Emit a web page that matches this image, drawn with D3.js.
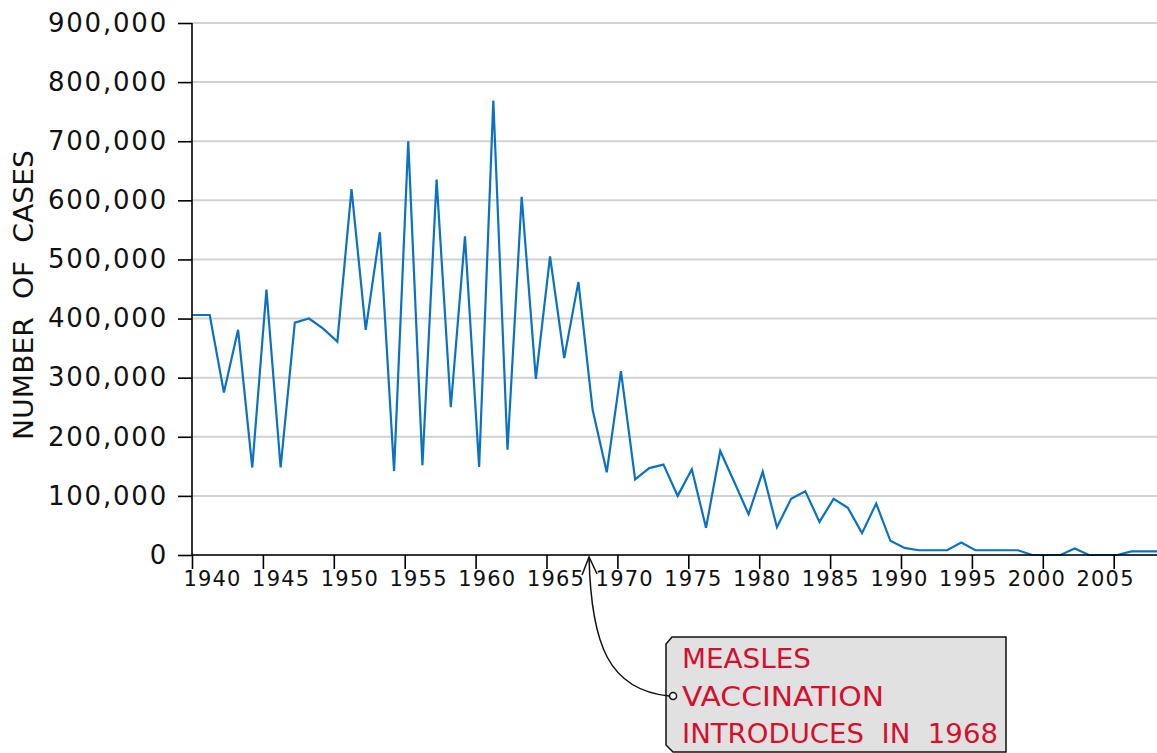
<!DOCTYPE html>
<html>
<head>
<meta charset="utf-8">
<script src="https://cdn.jsdelivr.net/npm/d3@7"></script>
<style>
  body { margin: 0; background: #fff; }
  svg { display: block; }
</style>
</head>
<body>
<div class="canvas"></div>
<script>
// data (cases per year)
const years = d3.range(1940, 2009);
const cases = [
  406000, 406000, 275000, 381000, 148000, 449000, 148000, 393000, 400000, 383000,
  361000, 619000, 381000, 546000, 142000, 700000, 152000, 635000, 250000, 539000,
  149000, 769000, 178000, 606000, 298000, 505000, 333000, 462000, 246000, 140000,
  311000, 128000, 147000, 153000, 100000, 145000, 46000, 176000, 123000, 69000,
  141000, 47000, 95000, 108000, 56000, 95000, 80000, 37000, 87000, 24000,
  12000, 8000, 8000, 8000, 21000, 8000, 8000, 8000, 8000, 0,
  0, 0, 11000, 0, 0, 0, 6000, 6000, 6000
];
const yTicks = [0, 100000, 200000, 300000, 400000, 500000, 600000, 700000, 800000, 900000];
const xTicks = [1940, 1945, 1950, 1955, 1960, 1965, 1970, 1975, 1980, 1985, 1990, 1995, 2000, 2005];
const noteLines = ['MEASLES', 'VACCINATION', 'INTRODUCES  IN  1968'];

const data = years.map((y, i) => ({ year: y, cases: cases[i] }));

const svg = d3.select('.canvas')
  .append('svg')
  .attr('width', 1157)
  .attr('height', 753);

// margins & dimensions
const margin = { top: 23, left: 192 };
const graphWidth = 1157 - margin.left;
const graphHeight = 555 - margin.top;

const graph = svg.append('g')
  .attr('transform', `translate(${margin.left}, ${margin.top})`);

const x = d3.scaleLinear()
  .domain([1940, 2008])
  .range([0, 68 * 14.18]);

const y = d3.scaleLinear()
  .domain([0, 900000])
  .range([graphHeight, 0]);

// gridlines
graph.append('g')
  .selectAll('line')
  .data(yTicks)
  .enter()
  .append('line')
  .attr('x1', 0)
  .attr('x2', graphWidth)
  .attr('y1', d => y(d))
  .attr('y2', d => y(d))
  .attr('stroke', '#d2d2d2')
  .attr('stroke-width', 2);

// line (points sit a quarter year right of the ticks in the original)
const shift = 0.25;
const line = d3.line()
  .x(d => d.year === 1940 ? x(d.year) : x(d.year + shift))
  .y(d => y(d.cases));

graph.append('path')
  .datum(data)
  .attr('d', line)
  .attr('fill', 'none')
  .attr('stroke', '#0a72c4')
  .attr('stroke-width', 2.2)
  .attr('stroke-linejoin', 'miter');

// axes
const yAxis = d3.axisLeft(y)
  .tickValues(yTicks)
  .tickSize(14)
  .tickPadding(10)
  .tickFormat(d3.format(','));

const yAxisGroup = graph.append('g').call(yAxis);
yAxisGroup.select('.domain').attr('stroke-width', 1.6).attr('d', `M0,0V${graphHeight}`);
yAxisGroup.selectAll('line').attr('stroke-width', 1.6);
yAxisGroup.selectAll('text')
  .attr('font-family', 'DejaVu Sans, sans-serif')
  .attr('font-size', 26)
  .attr('letter-spacing', 1.8)
  .attr('fill', '#111');

const xAxis = d3.axisBottom(x)
  .tickValues(xTicks)
  .tickSize(14)
  .tickPadding(2)
  .tickFormat(d3.format('d'));

const xAxisGroup = graph.append('g')
  .attr('transform', `translate(0, ${graphHeight})`)
  .call(xAxis);
xAxisGroup.select('.domain').attr('stroke-width', 1.6).attr('d', `M0,0H${graphWidth}`);
xAxisGroup.selectAll('line').attr('stroke-width', 1.6);
// labels in the original drift slightly left of the ticks as years go on
xAxisGroup.selectAll('text')
  .attr('x', d => 20 - (d - 1940) / 5 * 2.2)
  .attr('font-family', 'DejaVu Sans, sans-serif')
  .attr('font-size', 21)
  .attr('letter-spacing', 1.2)
  .attr('fill', '#111');

// axis title
svg.append('text')
  .attr('transform', 'translate(33, 295) rotate(-90)')
  .attr('text-anchor', 'middle')
  .attr('font-family', 'DejaVu Sans, sans-serif')
  .attr('font-size', 27)
  .attr('textLength', 290)
  .attr('lengthAdjust', 'spacingAndGlyphs')
  .style('white-space', 'pre')
  .attr('fill', '#111')
  .text('NUMBER  OF  CASES');

// note box
svg.append('path')
  .attr('d', 'M672,637 L1006,637 L1006,752 L673,752 L666,745 L666,644 Z')
  .attr('fill', '#e1e1e1')
  .attr('stroke', '#111')
  .attr('stroke-width', 1.5);

// annotation arrow
const tipX = margin.left + x(1968);
const arrow = svg.append('g')
  .attr('fill', 'none')
  .attr('stroke', '#111')
  .attr('stroke-width', 1.5);

arrow.append('path')
  .attr('d', `M${tipX},557 C${tipX + 2},645 ${tipX + 20},690 ${tipX + 80},696`);
arrow.append('path')
  .attr('d', `M${tipX - 7},575 L${tipX},557 L${tipX + 8},574`);
arrow.append('circle')
  .attr('cx', tipX + 84)
  .attr('cy', 696)
  .attr('r', 3.5)
  .attr('fill', '#fff');

const widths = [129, 202, 316];
svg.append('g')
  .selectAll('text')
  .data(noteLines)
  .enter()
  .append('text')
  .attr('x', 682)
  .attr('y', (d, i) => 668 + i * 37.6)
  .attr('font-family', 'DejaVu Sans, sans-serif')
  .attr('font-size', 27)
  .attr('textLength', (d, i) => widths[i])
  .attr('lengthAdjust', 'spacingAndGlyphs')
  .style('white-space', 'pre')
  .attr('fill', '#d4102f')
  .text(d => d);
</script>
</body>
</html>
